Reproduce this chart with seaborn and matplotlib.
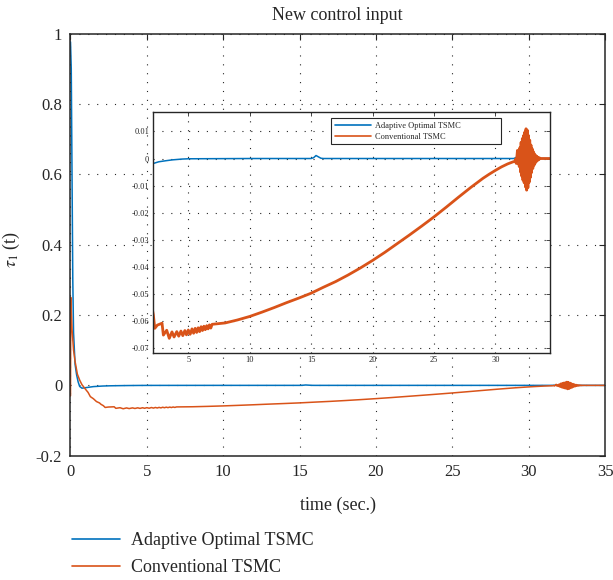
import matplotlib
matplotlib.use("Agg")
import matplotlib.pyplot as plt
from matplotlib.lines import Line2D
import pandas as pd
import seaborn as sns

# ---- data -------------------------------------------------------------
series_names = ["Adaptive Optimal TSMC", "Conventional TSMC"]
series_colors = ["#0072BD", "#D95319"]

adaptive_t = [0.0, 0.05, 0.10, 0.15, 0.20, 0.30, 0.40, 0.50, 0.60, 0.75,
              1.00, 1.50, 2.10, 2.60, 3.20, 3.70, 4.50, 5.00, 10.0, 15.0,
              15.2, 15.4, 15.6, 15.8, 16.0, 20.0, 25.0, 31.5, 31.7, 31.8,
              31.9, 32.0, 35.0]
adaptive_v = [0.977, 0.90, 0.60, 0.30, 0.15, 0.06, 0.03, 0.01, -0.003, -0.008,
              -0.0065, -0.0035, -0.0019, -0.0012, -0.0008, -0.0005, -0.0002, -0.0001, 0.0, 0.0,
              0.0003, 0.0011, 0.0006, 0.0001, 0.0, 0.0, 0.0, 0.0, 0.0004, 0.0012,
              0.0004, 0.0, 0.0]

conventional_t = [0.0, 0.02, 0.10, 0.20, 0.30, 0.45, 0.60, 0.75, 1.00, 1.15,
                  1.30, 1.50, 1.70, 1.90, 2.00, 2.15, 2.27, 2.48, 2.86, 2.97,
                  3.24, 3.45, 3.67, 3.84, 4.06, 4.22, 4.40, 4.55, 4.72, 4.85,
                  5.00, 5.15, 5.30, 5.43, 5.56, 5.68, 5.80, 5.92, 6.04, 6.15,
                  6.27, 6.38, 6.50, 6.61, 6.72, 6.83, 6.94, 8.0, 9.0, 10.0,
                  11.0, 12.0, 13.0, 14.0, 15.0, 16.0, 17.0, 18.0, 19.0, 20.0,
                  21.0, 22.0, 23.0, 24.0, 25.0, 26.0, 27.0, 28.0, 28.5, 29.0,
                  29.5, 30.0, 30.5, 31.0, 31.4, 31.6, 31.65, 31.7, 31.75, 31.8,
                  31.85, 31.9, 31.95, 32.0, 32.05, 32.1, 32.15, 32.2, 32.25, 32.3,
                  32.35, 32.4, 32.45, 32.5, 32.55, 32.6, 32.65, 32.7, 32.75, 32.8,
                  32.85, 32.9, 32.95, 33.0, 33.05, 33.1, 33.15, 33.2, 33.25, 33.3,
                  33.35, 33.4, 33.45, 33.5, 33.55, 33.6, 33.7, 35.0]
conventional_v = [-0.03, 0.25, 0.16, 0.10, 0.068, 0.032, 0.015, 0.002, -0.012, -0.02,
                  -0.032, -0.038, -0.046, -0.05, -0.054, -0.0577, -0.0628, -0.0616, -0.0609, -0.0653,
                  -0.0635, -0.0665, -0.0641, -0.066, -0.064, -0.0657, -0.0638, -0.0655, -0.0636, -0.0652,
                  -0.0634, -0.065, -0.063, -0.0646, -0.0628, -0.0643, -0.0626, -0.064, -0.0622, -0.0636,
                  -0.062, -0.0633, -0.0618, -0.063, -0.0615, -0.0627, -0.0613, -0.0608, -0.0597, -0.0584,
                  -0.0568, -0.0551, -0.0533, -0.0516, -0.0498, -0.0476, -0.0455, -0.0431, -0.0405, -0.0377,
                  -0.0347, -0.0315, -0.0283, -0.0250, -0.0216, -0.0180, -0.0143, -0.0107, -0.0090, -0.0073,
                  -0.0058, -0.0044, -0.0031, -0.0020, -0.0013, -0.0010, -0.0002, -0.0018, 0.0003, 0.003,
                  -0.002, 0.0015, -0.003, 0.004, -0.005, 0.006, -0.0065, 0.0074, -0.008, 0.0085,
                  -0.009, 0.0098, -0.0105, 0.011, -0.0117, 0.0105, -0.0108, 0.0085, -0.0088, 0.0068,
                  -0.007, 0.005, -0.0052, 0.0036, -0.0037, 0.0025, -0.0025, 0.0017, -0.0017, 0.0011,
                  -0.0011, 0.0007, -0.0007, 0.0004, -0.0004, 0.0002, 0.0, 0.0]

main_xticks = [0, 5, 10, 15, 20, 25, 30, 35]
main_xticklabels = ["0", "5", "10", "15", "20", "25", "30", "35"]
main_yticks = [-0.2, 0.0, 0.2, 0.4, 0.6, 0.8, 1.0]
main_yticklabels = ["-0.2", "0", "0.2", "0.4", "0.6", "0.8", "1"]

inset_xticks = [5, 10, 15, 20, 25, 30]
inset_xticklabels = ["5", "10", "15", "20", "25", "30"]
inset_yticks = [0.01, 0.0, -0.01, -0.02, -0.03, -0.04, -0.05, -0.06, -0.07]
inset_yticklabels = ["0.01", "0", "-0.01", "-0.02", "-0.03", "-0.04", "-0.05", "-0.06", "-0.07"]

title_text = "New control input"
xlabel_text = "time (sec.)"
ylabel_text = r"$\tau_{1}$ (t)"

frames = [
    pd.DataFrame({"time": adaptive_t, "value": adaptive_v, "controller": series_names[0]}),
    pd.DataFrame({"time": conventional_t, "value": conventional_v, "controller": series_names[1]}),
]

# ---- style ------------------------------------------------------------
sns.set_theme(style="white")
plt.rcParams["font.family"] = ["Liberation Serif", "DejaVu Serif"]
plt.rcParams["mathtext.fontset"] = "stix"
ink = "#262626"
grid_style = dict(color=ink, linestyle=(0, (1, 7)), linewidth=0.8)

fig = plt.figure(figsize=(6.13, 5.8), dpi=100)
fig.patch.set_facecolor("white")

# ---- main axes ----------------------------------------------------------
ax = fig.add_axes([0.1150, 0.2143, 0.8720, 0.7276])
for df, color in zip(frames, series_colors):
    sns.lineplot(data=df, x="time", y="value", color=color, linewidth=1.1,
                 estimator=None, sort=False, ax=ax, legend=False)
ax.set_xlim(0, 35)
ax.set_ylim(-0.2, 1.0)
ax.set_xticks(main_xticks)
ax.set_xticklabels(main_xticklabels)
ax.set_yticks(main_yticks)
ax.set_yticklabels(main_yticklabels)
ax.tick_params(direction="in", length=4, width=0.8, top=True, right=True,
               labelsize=12, pad=6, colors=ink)
ax.grid(True, **grid_style)
ax.set_axisbelow(True)
for sp in ax.spines.values():
    sp.set_color(ink)
    sp.set_linewidth(1.1)
ax.set_title(title_text, fontsize=13, color=ink, pad=10)
ax.set_xlabel(xlabel_text, fontsize=13, color=ink)
ax.xaxis.set_label_coords(0.5, -0.098)
ax.set_ylabel(ylabel_text, fontsize=13, color=ink)
ax.yaxis.set_label_coords(-0.091, 0.49)

# ---- inset (zoomed view) ----------------------------------------------
axi = fig.add_axes([0.2491, 0.3919, 0.6481, 0.4150])
axi.set_facecolor("white")
for df, color, lw in zip(frames, series_colors, [1.1, 2.0]):
    sns.lineplot(data=df, x="time", y="value", color=color, linewidth=lw,
                 estimator=None, sort=False, ax=axi, legend=False)
axi.set_xlim(2.1, 34.45)
axi.set_ylim(-0.0718, 0.0172)
axi.set_xticks(inset_xticks)
axi.set_xticklabels(inset_xticklabels)
axi.set_yticks(inset_yticks)
axi.set_yticklabels(inset_yticklabels)
axi.tick_params(direction="in", length=3, width=0.6, top=True, right=True,
                labelsize=6, pad=2.5, colors=ink)
axi.grid(True, **grid_style)
axi.set_axisbelow(True)
axi.set_xlabel("")
axi.set_ylabel("")
for sp in axi.spines.values():
    sp.set_color(ink)
    sp.set_linewidth(1.0)

handles = [Line2D([], [], color=c, linewidth=1.2) for c in series_colors]

leg_in = axi.legend(handles, series_names, loc="upper left",
                    bbox_to_anchor=(331 / 613, 1 - 145 / 580, 169.7 / 613, 26.7 / 580),
                    bbox_transform=fig.transFigure, mode="expand",
                    fontsize=6, handlelength=4.3, handletextpad=0.5,
                    labelspacing=0.3, borderpad=0.45, borderaxespad=0,
                    frameon=True, fancybox=False, framealpha=1)
leg_in.get_frame().set_edgecolor(ink)
leg_in.get_frame().set_linewidth(0.8)
for t in leg_in.get_texts():
    t.set_color(ink)

# ---- legend below the chart -------------------------------------------
leg = fig.legend(handles, series_names, loc="upper left",
                 bbox_to_anchor=(71.7 / 613, 1 - 532 / 580),
                 fontsize=13, handlelength=2.66, handletextpad=0.61,
                 labelspacing=0.55, borderpad=0, borderaxespad=0,
                 frameon=False)
for t in leg.get_texts():
    t.set_color(ink)

fig.savefig("out.png", dpi=100, facecolor="white")
